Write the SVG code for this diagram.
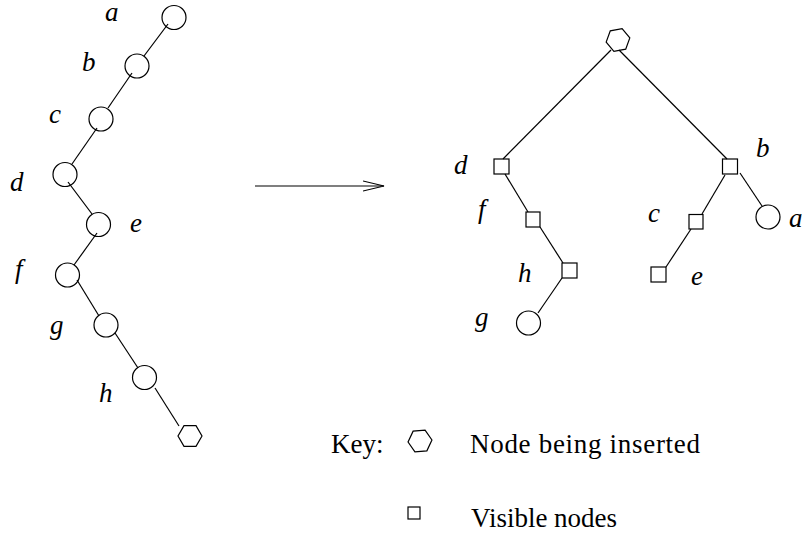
<svg xmlns="http://www.w3.org/2000/svg" width="802" height="537" viewBox="0 0 802 537">
<style>
.s{fill:none;stroke:#000;stroke-width:1.2}
.lbl{font-family:"Liberation Serif","Times New Roman",serif;font-style:italic;font-size:27px;fill:#000}
.txt{font-family:"Liberation Serif","Times New Roman",serif;font-size:27px;fill:#000}
</style>
<defs>
<path id="hex" d="M12,0 L6,10.4 L-6,10.4 L-12,0 L-6,-10.4 L6,-10.4 Z"/>
<marker id="open" markerWidth="24" markerHeight="14" refX="21" refY="6" orient="auto" markerUnits="userSpaceOnUse">
<path d="M0,1 L21,6 L0,11" fill="none" stroke="#000" stroke-width="1.2"/>
</marker>
</defs>
<rect width="802" height="537" fill="#fff"/>
<g id="connectors" class="s">
<line x1="168" y1="24" x2="144" y2="56"/>
<line x1="132" y1="73" x2="108" y2="108"/>
<line x1="97" y1="128" x2="72" y2="164"/>
<line x1="68" y1="182" x2="92" y2="214"/>
<line x1="97" y1="233" x2="74" y2="265"/>
<line x1="77" y1="280" x2="99" y2="316"/>
<line x1="115" y1="333" x2="138" y2="368"/>
<line x1="155" y1="388" x2="179" y2="426"/>
<line x1="611" y1="50" x2="503" y2="159"/>
<line x1="619" y1="50" x2="727" y2="159"/>
<line x1="505" y1="174" x2="528" y2="212"/>
<line x1="540" y1="227" x2="563" y2="263"/>
<line x1="562" y1="278" x2="538" y2="313"/>
<line x1="725" y1="175" x2="702" y2="214"/>
<line x1="740" y1="173" x2="762" y2="206"/>
<line x1="691" y1="229" x2="666" y2="267"/>
<line x1="255" y1="186" x2="384" y2="186" marker-end="url(#open)"/>
</g>
<g id="left-a"><circle class="s" cx="174" cy="17.5" r="12"/><text class="lbl" x="105" y="21">a</text></g>
<g id="left-b"><circle class="s" cx="137" cy="66" r="12"/><text class="lbl" x="82" y="71">b</text></g>
<g id="left-c"><circle class="s" cx="101" cy="119" r="12"/><text class="lbl" x="49" y="123">c</text></g>
<g id="left-d"><circle class="s" cx="65" cy="174.5" r="12"/><text class="lbl" x="10" y="191">d</text></g>
<g id="left-e"><circle class="s" cx="98.5" cy="224.5" r="12"/><text class="lbl" x="130" y="232">e</text></g>
<g id="left-f"><circle class="s" cx="67.5" cy="275" r="12"/><text class="lbl" x="15" y="278">f</text></g>
<g id="left-g"><circle class="s" cx="106" cy="325" r="12"/><text class="lbl" x="50" y="334">g</text></g>
<g id="left-h"><circle class="s" cx="144.5" cy="377.5" r="12"/><text class="lbl" x="99" y="402">h</text></g>
<g id="left-new"><use href="#hex" class="s" transform="translate(190,436)"/></g>
<g id="root"><use href="#hex" class="s" transform="translate(618,40) rotate(-10)"/></g>
<g id="right-d"><rect class="s" x="494" y="159" width="15" height="15"/><text class="lbl" x="454" y="174">d</text></g>
<g id="right-b"><rect class="s" x="722.5" y="159" width="15" height="15"/><text class="lbl" x="756" y="157">b</text></g>
<g id="right-f"><rect class="s" x="526" y="212" width="14" height="15"/><text class="lbl" x="478" y="218">f</text></g>
<g id="right-h"><rect class="s" x="562" y="263" width="15" height="15"/><text class="lbl" x="518" y="282">h</text></g>
<g id="right-g"><circle class="s" cx="528.5" cy="323" r="12"/><text class="lbl" x="475" y="326">g</text></g>
<g id="right-c"><rect class="s" x="689" y="214.5" width="14" height="14.5"/><text class="lbl" x="648" y="222">c</text></g>
<g id="right-e"><rect class="s" x="651" y="267" width="15" height="15"/><text class="lbl" x="691" y="285">e</text></g>
<g id="right-a"><circle class="s" cx="768" cy="217" r="12"/><text class="lbl" x="789" y="227">a</text></g>
<g id="key">
<text class="txt" x="331" y="453">Key:</text>
<use href="#hex" class="s" transform="translate(420,441) rotate(-5)"/>
<text class="txt" x="470" y="453" textLength="230" lengthAdjust="spacing">Node being inserted</text>
<rect class="s" x="408" y="507" width="12" height="12"/>
<text class="txt" x="471" y="527">Visible nodes</text>
</g>
</svg>
